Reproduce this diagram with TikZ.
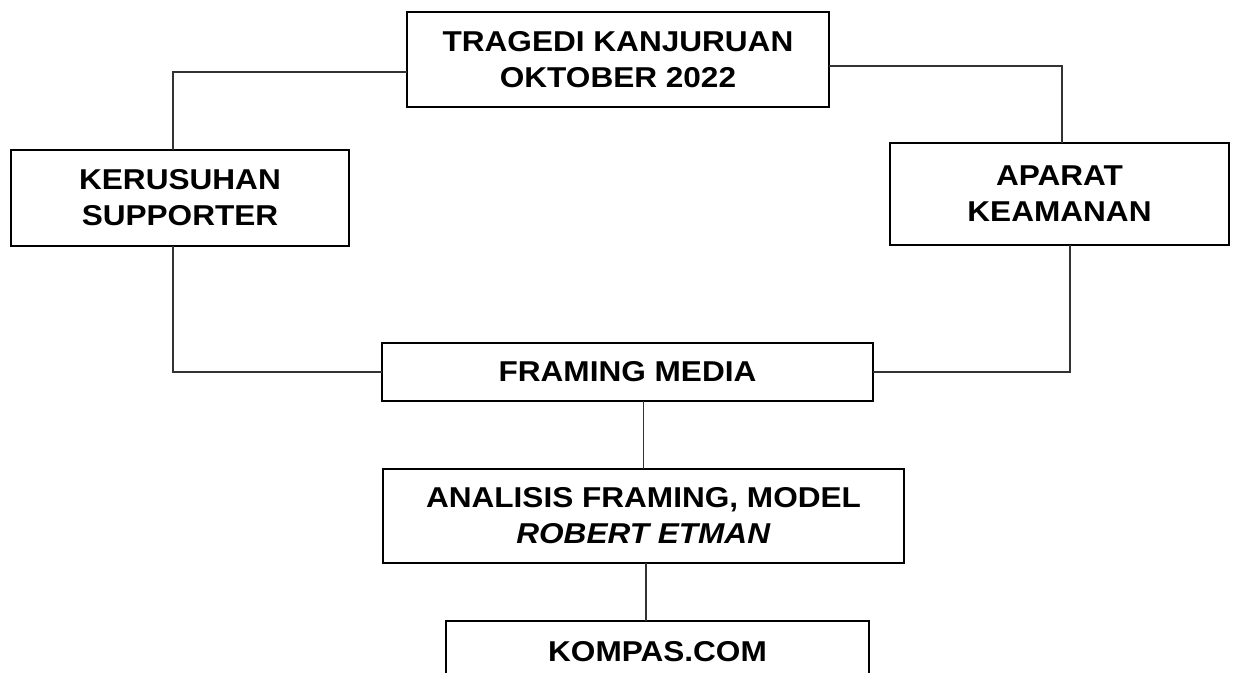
\documentclass[tikz,border=0pt]{standalone}
\usepackage{fontspec}
\setmainfont{Liberation Sans}[FakeStretch=1.1]
\tikzstyle{box}=[rectangle,draw=black,line width=2pt,inner sep=0pt,outer sep=0pt,align=center,font=\fontsize{28.7}{36}\selectfont\bfseries]
\tikzstyle{edge}=[draw=black!80,line width=1.3pt]

\begin{document}
\begin{tikzpicture}[x=1pt,y=-1pt]
                 \clip (0,0) rectangle (1234,672);
                 \node[box,minimum width=422pt,minimum height=95pt] (tragedi) at (618,59.5) {TRAGEDI KANJURUAN\\OKTOBER 2022};
                 \node[box,minimum width=338pt,minimum height=96pt] (kerusuhan) at (180,198) {KERUSUHAN\\SUPPORTER};
                 \node[box,minimum width=339pt,minimum height=102pt] (aparat) at (1059.5,194) {APARAT\\KEAMANAN};
                 \node[box,minimum width=491pt,minimum height=58pt] (framing) at (627.5,372) {FRAMING MEDIA};
                 \node[box,minimum width=521pt,minimum height=94pt] (analisis) at (643.5,516) {ANALISIS FRAMING, MODEL\\\textit{ROBERT ETMAN}};
                 \node[box,minimum width=423pt,minimum height=62pt] (kompas) at (657.5,652) {KOMPAS.COM};
                 \draw[edge] ([yshift=-12.5pt]tragedi.west) -| ([xshift=-7pt]kerusuhan.north);
                 \draw[edge] ([yshift=-6.5pt]tragedi.east) -| ([xshift=2.5pt]aparat.north);
                 \draw[edge] ([xshift=-7pt]kerusuhan.south) |- (framing.west);
                 \draw[edge] ([xshift=10.5pt]aparat.south) |- (framing.east);
                 \draw[edge] (framing.south -| analisis.north) -- (analisis.north);
                 \draw[edge] ([xshift=2.5pt]analisis.south) -- ([xshift=2.5pt]analisis.south |- kompas.north);
            \end{tikzpicture}
\end{document}
